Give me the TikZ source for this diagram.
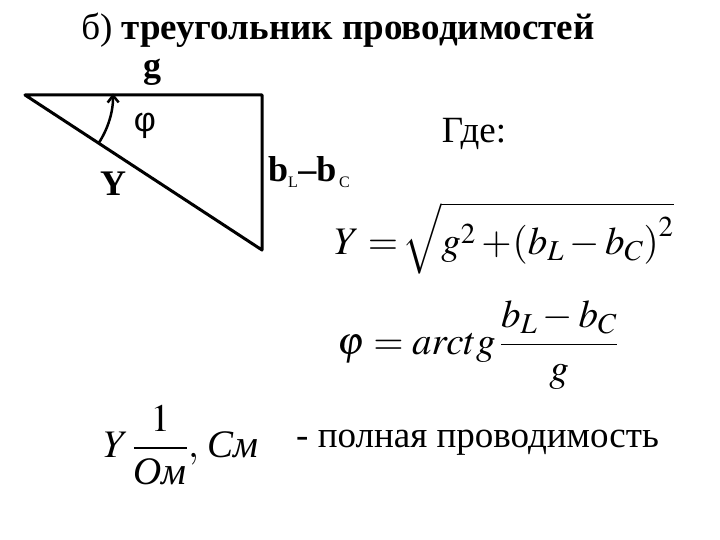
\documentclass[tikz,border=0pt]{standalone}
\usepackage{amsmath}
\usepackage{mathptmx}
\usepackage{fontspec}
\setmainfont{Liberation Serif}
\newfontfamily\anglefont{Liberation Sans}
\usetikzlibrary{arrows.meta}

\tikzset{
  side/.style={line width=3pt, line cap=round, line join=round},
  lbl/.style={font=\fontsize{36}{40}\selectfont\bfseries, inner sep=0pt},
  txt/.style={font=\fontsize{37}{42}\selectfont, inner sep=0pt},
  frm/.style={font=\fontsize{39}{46}\selectfont, inner sep=0pt},
}

\begin{document}
\begin{tikzpicture}[x=1pt,y=-1pt]
  \useasboundingbox (0,0) rectangle (720,540);
  \node[txt] (title) at (338,30) {б) \textbf{треугольник проводимостей}};
  % triangle of conductances
  \coordinate (A) at (25,95);
  \coordinate (B) at (262,95);
  \coordinate (C) at (262,250);
  \draw[side] (A) -- (B) -- (C) -- cycle;
  \draw[line width=2.5pt, -{Straight Barb[length=7pt,width=11pt]}]
    ([shift={(33.2:88)}]A) arc[start angle=33.2, end angle=-1, radius=88];
  \node[lbl] (g) at (152,72) {g};
  \node[lbl] (Y) at (113,184) {Y};
  \node[font=\fontsize{34}{38}\selectfont\anglefont, inner sep=0pt] (phiangle) at (145,126) {φ};
  \node[lbl, anchor=west] (bdiff) at (268,172)
    {b\textsubscript{\mdseries\fontsize{16}{18}\selectfont L}–b\textsubscript{\mdseries\fontsize{16}{18}\selectfont\,C}};
  % formulas
  \node[txt] (where) at (474,134) {Где:};
  \node[frm] (ymod) at (504,238) {$Y=\!\sqrt{g^{2}+\!\left(b_{L}-b_{C}\right)^{2}}$};
  \node[frm] (phi) at (478,345) {$\varphi=arctg\,\dfrac{b_{L}-b_{C}}{g}$};
  \node[frm] (unit) at (181,445) {$Y\,\dfrac{1}{\textit{Ом}},\,\textit{См}$};
  \node[txt, anchor=west] (desc) at (296,443) {- полная проводимость};
\end{tikzpicture}
\end{document}
